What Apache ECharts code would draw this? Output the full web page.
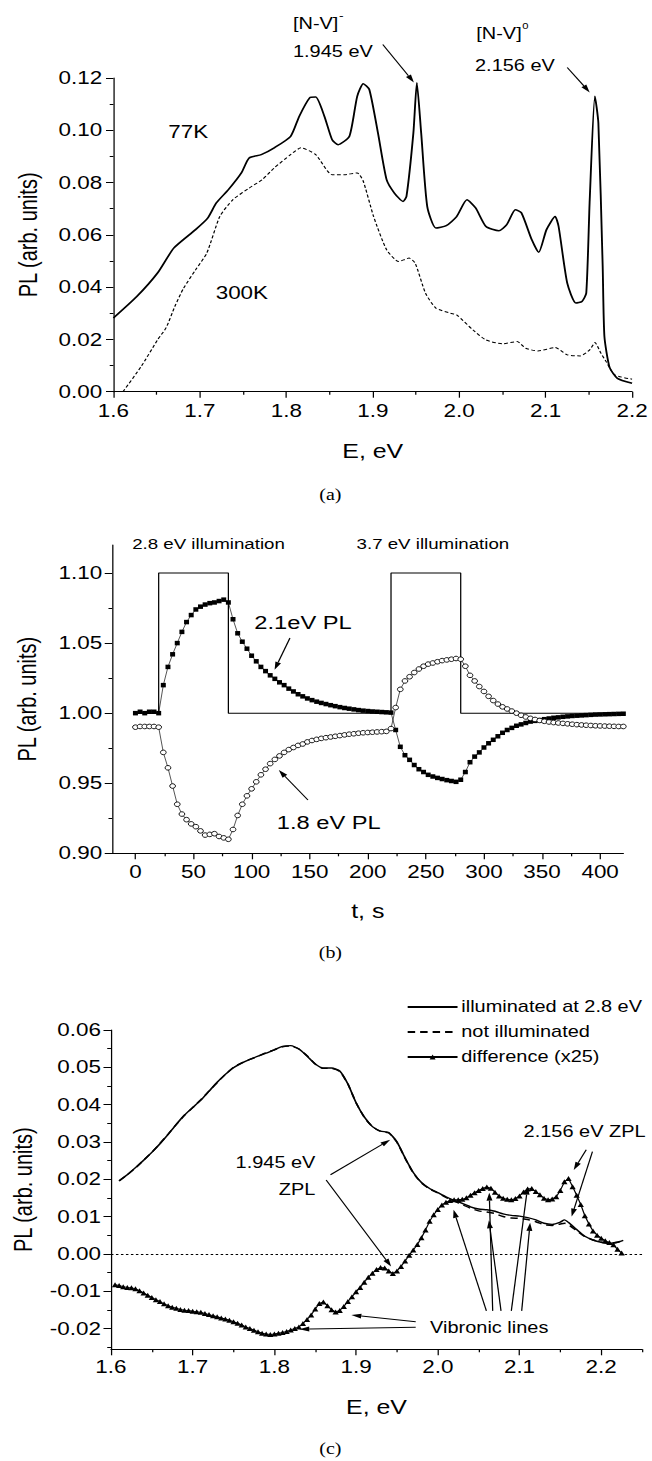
<!DOCTYPE html>
<html><head><meta charset="utf-8">
<script src="https://cdn.jsdelivr.net/npm/echarts@6.0.0/dist/echarts.min.js"></script>
<style>
html,body{margin:0;padding:0;background:#fff;}
#wrap{width:652px;height:1461px;overflow:hidden;position:relative;background:#fff;}
#chart{width:523px;height:1461px;transform:scaleX(1.2467);transform-origin:0 0;}
</style>
</head><body><div id="wrap"><div id="chart"></div></div>
<script>
// ---------- Panel (a): PL spectra ----------
const curve77K = [[1.600,0.0282],[1.627,0.0364],[1.651,0.0454],[1.670,0.0550],[1.695,0.0620],[1.709,0.0664],[1.719,0.0722],[1.733,0.0773],[1.748,0.0837],[1.757,0.0894],[1.771,0.0907],[1.786,0.0933],[1.805,0.0977],[1.815,0.1054],[1.827,0.1124],[1.834,0.1127],[1.844,0.1054],[1.853,0.0964],[1.860,0.0945],[1.873,0.0977],[1.882,0.1130],[1.889,0.1178],[1.896,0.1156],[1.906,0.0990],[1.916,0.0811],[1.925,0.0760],[1.935,0.0728],[1.939,0.0747],[1.947,0.0990],[1.951,0.1182],[1.956,0.0990],[1.963,0.0709],[1.973,0.0626],[1.985,0.0635],[1.997,0.0670],[2.009,0.0734],[2.019,0.0703],[2.031,0.0632],[2.046,0.0616],[2.055,0.0639],[2.065,0.0696],[2.072,0.0684],[2.084,0.0581],[2.092,0.0533],[2.101,0.0620],[2.111,0.0670],[2.115,0.0632],[2.125,0.0415],[2.135,0.0339],[2.142,0.0345],[2.147,0.0377],[2.151,0.0734],[2.157,0.1130],[2.161,0.1028],[2.166,0.0479],[2.168,0.0211],[2.174,0.0093],[2.183,0.0051],[2.200,0.0032]];
const curve300K = [[1.611,0.0],[1.632,0.0096],[1.651,0.0198],[1.661,0.0245],[1.671,0.0326],[1.681,0.0395],[1.695,0.0466],[1.708,0.053],[1.723,0.067],[1.738,0.0734],[1.757,0.0779],[1.772,0.0811],[1.786,0.0856],[1.805,0.0907],[1.817,0.0933],[1.834,0.0907],[1.853,0.083],[1.867,0.083],[1.882,0.0837],[1.889,0.0805],[1.901,0.067],[1.916,0.0543],[1.930,0.0498],[1.942,0.0511],[1.949,0.0492],[1.961,0.0377],[1.973,0.032],[1.990,0.030],[1.997,0.0294],[2.016,0.0236],[2.031,0.0198],[2.050,0.0183],[2.067,0.0192],[2.077,0.0166],[2.091,0.0156],[2.111,0.0169],[2.125,0.0141],[2.140,0.0137],[2.151,0.016],[2.157,0.0188],[2.164,0.0147],[2.170,0.0115],[2.180,0.0064],[2.200,0.0048]];
const aXTicks = [1.6,1.7,1.8,1.9,2.0,2.1,2.2];
const aXMinor = [1.65,1.75,1.85,1.95,2.05,2.15];
const aYTicks = [0,0.02,0.04,0.06,0.08,0.10,0.12];
const aYMinor = [0.01,0.03,0.05,0.07,0.09,0.11];

// ---------- Panel (b): kinetics ----------
const stepT = [0,20,20,80,80,220,220,280,280,440];
const stepV = [1,1,1.1,1.1,1,1,1.1,1.1,1,1];
const timesB = [0,4,8,12,16,20,24,28,32,36,40,44,48,52,56,60,64,68,72,76,80,84,88,92,96,100,104,108,112,116,120,124,128,132,136,140,144,148,152,156,160,164,168,172,176,180,184,188,192,196,200,204,208,212,216,220,224,228,232,236,240,244,248,252,256,260,264,268,272,276,280,284,288,292,296,300,304,308,312,316,320,324,328,332,336,340,344,348,352,356,360,364,368,372,376,380,384,388,392,396,400,404,408,412,416,420];
const pl21 = [1.000,1.001,1.000,1.001,1.001,1.000,
 1.020,1.033,1.042,1.050,1.058,1.065,1.070,1.074,1.076,1.0775,1.0785,1.079,1.080,1.081,1.079,
 1.067,1.057,1.051,1.046,1.041,1.037,1.033,1.030,1.027,1.0245,1.022,1.020,1.0175,1.0155,1.0135,1.012,1.0105,1.0093,1.0082,1.0073,1.0065,1.0057,1.005,1.0043,1.0037,1.0032,1.0027,1.0022,1.0018,1.0015,1.0012,1.001,1.0008,1.0006,1.0004,
 0.988,0.976,0.970,0.9667,0.963,0.960,0.958,0.956,0.9548,0.9538,0.953,0.9522,0.9516,0.951,0.9525,
 0.958,0.965,0.969,0.972,0.9755,0.9785,0.981,0.9835,0.986,0.988,0.9895,0.991,0.992,0.993,0.994,0.9945,0.995,0.9957,0.9962,0.9967,0.997,0.9974,0.9977,0.998,0.9982,0.9984,0.9986,0.9988,0.999,0.9991,0.9992,0.9993,0.9994,0.9995,0.9996];
const pl18 = [0.990,0.9905,0.9905,0.9905,0.9905,0.990,
 0.972,0.961,0.948,0.935,0.928,0.924,0.921,0.919,0.916,0.913,0.9135,0.914,0.912,0.911,0.910,
 0.917,0.927,0.935,0.941,0.946,0.951,0.956,0.960,0.964,0.967,0.9695,0.972,0.974,0.9755,0.977,0.978,0.9795,0.9805,0.9813,0.982,0.9825,0.983,0.9835,0.984,0.9845,0.985,0.9853,0.9857,0.986,0.9862,0.9864,0.9866,0.9868,0.987,0.989,
 1.004,1.017,1.023,1.026,1.029,1.0315,1.0335,1.035,1.0358,1.0367,1.0375,1.038,1.0385,1.039,1.0385,
 1.0335,1.027,1.023,1.019,1.0155,1.012,1.009,1.0065,1.0045,1.003,1.0015,1.000,0.9985,0.9973,0.9963,0.9955,0.9948,0.9942,0.9937,0.9933,0.993,0.9927,0.9924,0.9921,0.9918,0.9916,0.9914,0.9912,0.991,0.9909,0.9908,0.9907,0.9906,0.9905,0.9905];
const bXTicks = [0,50,100,150,200,250,300,350,400];
const bXMinor = [25,75,125,175,225,275,325,375];
const bYTicks = [0.90,0.95,1.00,1.05,1.10];
const bYMinor = [0.925,0.975,1.025,1.075];

// ---------- Panel (c): spectra + difference ----------
const cE = [1.61,1.62,1.63,1.64,1.65,1.66,1.67,1.68,1.69,1.70,1.71,1.72,1.73,1.74,1.75,1.76,1.77,1.78,1.79,1.80,1.81,1.82,1.83,1.84,1.85,1.86,1.87,1.88,1.89,1.90,1.91,1.92,1.93,1.94,1.95,1.96,1.97,1.98,1.99,2.00,2.01,2.02,2.03,2.04,2.05,2.06,2.07,2.08,2.09,2.10,2.11,2.12,2.13,2.14,2.15,2.155,2.16,2.17,2.18,2.19,2.20,2.21,2.22,2.227];
const illum = [0.0196,0.0212,0.0231,0.0251,0.0272,0.0295,0.0320,0.0347,0.0372,0.0392,0.0412,0.0436,0.0460,0.0481,0.0499,0.0511,0.0521,0.0530,0.0538,0.0547,0.0556,0.0558,0.0549,0.0530,0.0509,0.0498,0.0498,0.0490,0.0455,0.0405,0.0367,0.0341,0.0329,0.0325,0.0300,0.0257,0.0218,0.0191,0.0175,0.0164,0.0153,0.0143,0.0135,0.0126,0.0120,0.0118,0.0114,0.0107,0.0103,0.0101,0.0097,0.0091,0.0082,0.0079,0.0085,0.0091,0.0084,0.0065,0.0047,0.0037,0.0031,0.0028,0.0031,0.0036];
const notIllum = [0.0195,0.0212,0.0230,0.0251,0.0272,0.0296,0.0321,0.0347,0.0371,0.0392,0.0413,0.0436,0.0459,0.0481,0.0500,0.0512,0.0521,0.0530,0.0539,0.0547,0.0555,0.0557,0.0549,0.0531,0.0509,0.0497,0.0497,0.0489,0.0455,0.0405,0.0366,0.0341,0.0328,0.0324,0.0299,0.0256,0.0217,0.0190,0.0174,0.0163,0.0151,0.0141,0.0132,0.0122,0.0115,0.0112,0.0108,0.0100,0.0096,0.0095,0.0092,0.0086,0.0078,0.0076,0.0080,0.0082,0.0078,0.0062,0.0046,0.0037,0.0031,0.0028,0.0031,0.0036];
const diff25 = [[1.605,-0.0083],[1.610,-0.0085],[1.615,-0.0088],[1.620,-0.0090],[1.625,-0.0091],[1.630,-0.0094],[1.635,-0.0099],[1.640,-0.0105],[1.645,-0.0111],[1.650,-0.0117],[1.655,-0.0123],[1.660,-0.0128],[1.665,-0.0134],[1.670,-0.0139],[1.675,-0.0143],[1.680,-0.0146],[1.685,-0.0149],[1.690,-0.0151],[1.695,-0.0152],[1.700,-0.0154],[1.705,-0.0155],[1.710,-0.0157],[1.715,-0.0160],[1.720,-0.0163],[1.725,-0.0166],[1.730,-0.0169],[1.735,-0.0172],[1.740,-0.0175],[1.745,-0.0178],[1.750,-0.0182],[1.755,-0.0186],[1.760,-0.0191],[1.765,-0.0196],[1.770,-0.0200],[1.775,-0.0205],[1.780,-0.0209],[1.785,-0.0213],[1.790,-0.0215],[1.795,-0.0216],[1.800,-0.0215],[1.805,-0.0213],[1.810,-0.0211],[1.815,-0.0208],[1.820,-0.0204],[1.825,-0.0200],[1.830,-0.0196],[1.835,-0.0187],[1.840,-0.0176],[1.845,-0.0164],[1.850,-0.0148],[1.855,-0.0133],[1.860,-0.0129],[1.865,-0.0139],[1.870,-0.0150],[1.875,-0.0156],[1.880,-0.0152],[1.885,-0.0141],[1.890,-0.0128],[1.895,-0.0115],[1.900,-0.0102],[1.905,-0.0090],[1.910,-0.0076],[1.915,-0.0063],[1.920,-0.0052],[1.925,-0.0042],[1.930,-0.0037],[1.935,-0.0038],[1.940,-0.0046],[1.945,-0.0053],[1.950,-0.0046],[1.955,-0.0034],[1.960,-0.0019],[1.965,-0.0004],[1.970,0.0010],[1.975,0.0025],[1.980,0.0043],[1.985,0.0064],[1.990,0.0087],[1.995,0.0105],[2.000,0.0119],[2.005,0.0131],[2.010,0.0138],[2.015,0.0143],[2.020,0.0145],[2.025,0.0145],[2.030,0.0146],[2.035,0.0150],[2.040,0.0157],[2.045,0.0164],[2.050,0.0170],[2.055,0.0175],[2.060,0.0179],[2.065,0.0176],[2.070,0.0165],[2.075,0.0155],[2.080,0.0149],[2.085,0.0146],[2.090,0.0145],[2.095,0.0148],[2.100,0.0155],[2.105,0.0166],[2.110,0.0174],[2.115,0.0175],[2.120,0.0167],[2.125,0.0158],[2.130,0.0149],[2.135,0.0145],[2.140,0.0147],[2.145,0.0153],[2.150,0.0170],[2.155,0.0193],[2.160,0.0202],[2.165,0.0180],[2.170,0.0157],[2.175,0.0132],[2.180,0.0102],[2.185,0.0080],[2.190,0.0061],[2.195,0.0050],[2.200,0.0042],[2.205,0.0035],[2.210,0.0030],[2.215,0.0024],[2.220,0.0012],[2.225,0.0002]];
const cXTicks = [1.6,1.7,1.8,1.9,2.0,2.1,2.2];
const cXMinor = [1.65,1.75,1.85,1.95,2.05,2.15,2.25];
const cYTicks = [-0.02,-0.01,0,0.01,0.02,0.03,0.04,0.05,0.06];
const cYMinor = [-0.025,-0.015,-0.005,0.005,0.015,0.025,0.035,0.045,0.055];

// ---------- chart ----------
const FONT = "'Liberation Sans', Arial, Helvetica, sans-serif";
const SERIF = "'Liberation Serif', 'Times New Roman', serif";

function axisPair(gi, isX, min, max, majors, minors, digits, name, nameGap, margin) {
  const pos = isX ? 'bottom' : 'left';
  return [{
    type: 'value', gridIndex: gi, position: pos, min: min, max: max,
    name: name, nameLocation: 'middle', nameGap: nameGap, nameRotate: isX ? 0 : 90,
    nameTextStyle: {color: '#000', fontSize: 20, fontFamily: FONT},
    axisLine: {show: true, onZero: false, lineStyle: {color: '#000', width: 1}},
    axisTick: {show: true, inside: false, length: 6, customValues: majors, lineStyle: {color: '#000', width: 1}},
    axisLabel: {show: true, customValues: majors, margin: margin, color: '#000', fontSize: 18, fontFamily: FONT,
      formatter: function (v) { return Number(v).toFixed(digits); }},
    splitLine: {show: false}
  }, {
    type: 'value', gridIndex: gi, position: pos, min: min, max: max,
    axisLine: {show: false, onZero: false},
    axisTick: {show: true, inside: false, length: 3, customValues: minors, lineStyle: {color: '#000', width: 1}},
    axisLabel: {show: false}, splitLine: {show: false}
  }];
}

const xAxes = [].concat(
  axisPair(0, true, 1.6, 2.2, aXTicks, aXMinor, 1, 'E, eV', 50, 10),
  axisPair(1, true, -20, 420, bXTicks, bXMinor, 0, 't, s', 48, 10),
  axisPair(2, true, 1.6, 2.25, cXTicks, cXMinor, 1, 'E, eV', 48, 9)
);
const yAxes = [].concat(
  axisPair(0, false, 0, 0.12, aYTicks, aYMinor, 2, 'PL (arb. units)', 58, 9),
  axisPair(1, false, 0.90, 1.12, bYTicks, bYMinor, 2, 'PL (arb. units)', 58, 8),
  axisPair(2, false, -0.0256, 0.06, cYTicks, cYMinor, 2, 'PL (arb. units)', 57, 8)
);

const chart = echarts.init(document.getElementById('chart'), null, {renderer: 'svg', width: 523, height: 1461});
chart.setOption({
  animation: false,
  backgroundColor: '#fff',
  grid: [
    {left: 91, top: 78, width: 416, height: 313.7},
    {left: 90, top: 545, width: 410, height: 308.3},
    {left: 89, top: 1030, width: 426, height: 319.3}
  ],
  xAxis: xAxes,
  yAxis: yAxes,
  legend: {
    data: [
      {name: 'illuminated at 2.8 eV', itemStyle: {opacity: 0}},
      {name: 'not illuminated', itemStyle: {opacity: 0}},
      {name: 'difference (x25)'}
    ],
    orient: 'vertical', left: 321, top: 994, itemWidth: 40, itemHeight: 6, itemGap: 9,
    selectedMode: false,
    textStyle: {color: '#000', fontSize: 16, fontFamily: FONT, padding: [0, 0, 0, -2]}
  },
  series: [
    {type: 'line', name: '77K', xAxisIndex: 0, yAxisIndex: 0, data: curve77K, symbol: 'none', smooth: 0.2,
      lineStyle: {color: '#000', width: 1.5}},
    {type: 'line', name: '300K', xAxisIndex: 0, yAxisIndex: 0, data: curve300K, symbol: 'none', smooth: 0.2,
      lineStyle: {color: '#000', width: 1, type: [3, 2]}},
    {type: 'line', name: 'illumination', xAxisIndex: 2, yAxisIndex: 2, clip: false,
      data: stepT.map(function (t, i) { return [t, stepV[i]]; }), symbol: 'none',
      lineStyle: {color: '#000', width: 1}},
    {type: 'line', name: '2.1eV PL', xAxisIndex: 2, yAxisIndex: 2,
      data: timesB.map(function (t, i) { return [t, pl21[i]]; }),
      symbol: 'rect', symbolSize: [4, 4.5], showAllSymbol: true,
      itemStyle: {color: '#000'}, lineStyle: {color: '#000', width: 0.6}},
    {type: 'line', name: '1.8 eV PL', xAxisIndex: 2, yAxisIndex: 2,
      data: timesB.map(function (t, i) { return [t, pl18[i]]; }),
      symbol: 'circle', symbolSize: 4.6, showAllSymbol: true,
      itemStyle: {color: '#fff', borderColor: '#000', borderWidth: 0.8}, lineStyle: {color: '#000', width: 0.6}},
    {type: 'line', name: 'not illuminated', xAxisIndex: 4, yAxisIndex: 4,
      data: cE.map(function (e, i) { return [e, notIllum[i]]; }), symbol: 'none', smooth: 0.2,
      itemStyle: {color: '#000'}, lineStyle: {color: '#000', width: 1.4, type: [6, 4]}},
    {type: 'line', name: 'illuminated at 2.8 eV', xAxisIndex: 4, yAxisIndex: 4,
      data: cE.map(function (e, i) { return [e, illum[i]]; }), symbol: 'none', smooth: 0.2,
      itemStyle: {color: '#000'}, lineStyle: {color: '#000', width: 1.4}},
    {type: 'line', name: 'difference (x25)', xAxisIndex: 4, yAxisIndex: 4, data: diff25,
      symbol: 'triangle', symbolSize: 5, showAllSymbol: true,
      itemStyle: {color: '#000'}, lineStyle: {color: '#000', width: 1},
      markLine: {silent: true, symbol: ['none', 'none'], label: {show: false},
        lineStyle: {color: '#000', width: 1, type: [2, 2]}, data: [{yAxis: 0}]}}
  ]
});

// ---------- annotations ----------
const arrowsA = [[[1.9116, 0.1328], [1.9476, 0.1183]], [[2.125, 0.124], [2.151, 0.1145]]];
const arrowsB = [[[133, 1.0536], [119.8, 1.031]], [[148.5, 0.938], [123.4, 0.9595]]];
const arrowsC = [
  [[1.8687, 0.0212], [1.9418, 0.0306]],
  [[1.8634, 0.0198], [1.9429, -0.0034]],
  [[2.1817, 0.0279], [2.1664, 0.0225]],
  [[2.1893, 0.0274], [2.1638, 0.0100]],
  [[1.973, -0.0182], [1.8942, -0.0164]],
  [[1.973, -0.0197], [1.8305, -0.0202]],
  [[2.0595, -0.0153], [2.0193, 0.0118]],
  [[2.0672, -0.0153], [2.0630, 0.0164]],
  [[2.0774, -0.0153], [2.0626, 0.0090]],
  [[2.0900, -0.0153], [2.1100, 0.0180]],
  [[2.1027, -0.0153], [2.1130, 0.0083]]
];
const labels = [
  {t: '77K', x: 135, y: 132, s: 18}, {t: '300K', x: 173, y: 293, s: 18},
  {t: '[N-V]', x: 235, y: 24, s: 16}, {t: '-', x: 272, y: 15, s: 11},
  {t: '1.945 eV', x: 235, y: 52, s: 16},
  {t: '[N-V]', x: 382, y: 34, s: 16}, {t: '0', x: 419, y: 26, s: 9},
  {t: '2.156 eV', x: 381, y: 66, s: 16},
  {t: '2.8 eV illumination', x: 106, y: 544, s: 15}, {t: '3.7 eV illumination', x: 286, y: 544, s: 15},
  {t: '2.1eV PL', x: 204, y: 623, s: 19}, {t: '1.8 eV PL', x: 222, y: 823, s: 19},
  {t: '1.945 eV', x: 253, y: 1163, s: 16, a: 'right'}, {t: 'ZPL', x: 253, y: 1190, s: 16, a: 'right'},
  {t: '2.156 eV ZPL', x: 420, y: 1132, s: 16}, {t: 'Vibronic lines', x: 345, y: 1328, s: 16},
  {t: '(a)', x: 265, y: 495, s: 16, a: 'center', f: SERIF},
  {t: '(b)', x: 265, y: 953, s: 16, a: 'center', f: SERIF},
  {t: '(c)', x: 265, y: 1449, s: 16, a: 'center', f: SERIF}
];

const gfx = [];
function addArrow(axisIdx, pair) {
  const p0 = chart.convertToPixel({xAxisIndex: axisIdx, yAxisIndex: axisIdx}, pair[0]);
  const p1 = chart.convertToPixel({xAxisIndex: axisIdx, yAxisIndex: axisIdx}, pair[1]);
  const dx = p1[0] - p0[0], dy = p1[1] - p0[1];
  const L = Math.sqrt(dx * dx + dy * dy) || 1;
  const ux = dx / L, uy = dy / L, hl = 8, hw = 2.4;
  const bx = p1[0] - ux * hl, by = p1[1] - uy * hl;
  gfx.push({type: 'line', silent: true, z: 100,
    shape: {x1: p0[0], y1: p0[1], x2: bx, y2: by}, style: {stroke: '#000', lineWidth: 1}});
  gfx.push({type: 'polygon', silent: true, z: 100,
    shape: {points: [[p1[0], p1[1]], [bx - uy * hw, by + ux * hw], [bx + uy * hw, by - ux * hw]]},
    style: {fill: '#000'}});
}
arrowsA.forEach(function (p) { addArrow(0, p); });
arrowsB.forEach(function (p) { addArrow(2, p); });
arrowsC.forEach(function (p) { addArrow(4, p); });
labels.forEach(function (l) {
  gfx.push({type: 'text', silent: true, z: 100, x: l.x, y: l.y,
    style: {text: l.t, fill: '#000', fontSize: l.s, fontFamily: l.f || FONT,
      align: l.a || 'left', verticalAlign: 'middle', textAlign: l.a || 'left', textVerticalAlign: 'middle'}});
});
chart.setOption({graphic: gfx});
</script>
</body></html>
